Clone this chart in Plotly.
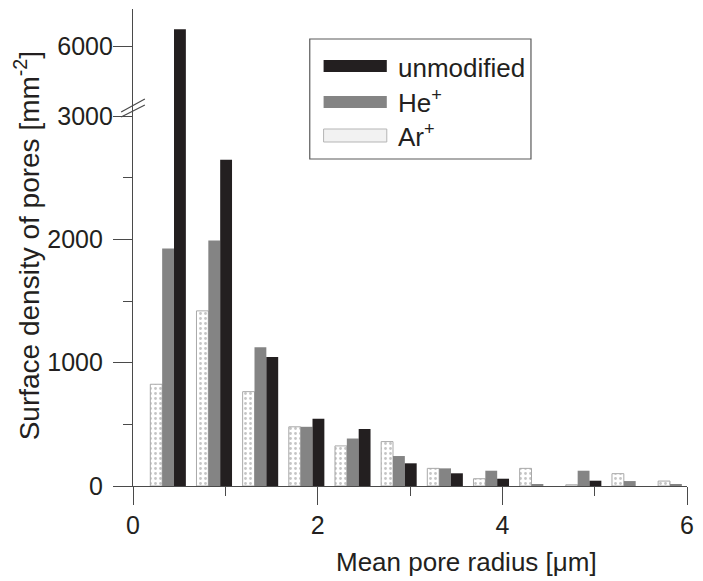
import plotly.graph_objects as go

# ---- data ----
radius = [0.38, 0.88, 1.38, 1.88, 2.38, 2.88, 3.38, 3.88, 4.38, 4.88, 5.38, 5.88]
ar_plus = [825, 1420, 765, 480, 325, 360, 143, 59, 143, 10, 100, 40]
he_plus = [1925, 1990, 1125, 480, 385, 243, 143, 124, 15, 124, 40, 15]
unmodified = [6720, 2645, 1045, 545, 462, 184, 103, 59, 0, 43, 0, 0]

x_ticks = [0, 2, 4, 6]
x_minor = [1, 3, 5]
y_low_ticks = [0, 1000, 2000]
y_low_minor = [500, 1500, 2500]
y_high_ticks = [3000, 6000]
series_names = ["unmodified", "He<sup>+</sup>", "Ar<sup>+</sup>"]

TXT = "#231f20"
AX = "#4a4a4a"
FONT = "Liberation Sans, Arial, Helvetica, sans-serif"

W, H = 703, 581
ML, MR, MT, MB = 133, 9, 9, 95
PW, PH = W - ML - MR, H - MT - MB
ybreak_px = 116
f = (H - MB - ybreak_px) / PH  # split between lower and upper y domains


def px(x):
    return (x - ML) / PW


def py(y):
    return (H - MB - y) / PH


fig = go.Figure()

ar_style = dict(color="white", line=dict(color="#a9a9a9", width=1),
                pattern=dict(shape=".", fgcolor="#8c8c8c", bgcolor="white", size=5, solidity=0.25))
he_style = dict(color="#848484", line=dict(width=0))
un_style = dict(color=TXT, line=dict(width=0))

for xa, ya in (("x", "y"), ("x2", "y2")):
    fig.add_trace(go.Bar(x=radius, y=ar_plus, name="Ar+", marker=ar_style, xaxis=xa, yaxis=ya, showlegend=False))
    fig.add_trace(go.Bar(x=radius, y=he_plus, name="He+", marker=he_style, xaxis=xa, yaxis=ya, showlegend=False))
    fig.add_trace(go.Bar(x=radius, y=unmodified, name="unmodified", marker=un_style, xaxis=xa, yaxis=ya, showlegend=False))

tickfont = dict(family=FONT, size=25, color=TXT)

fig.update_layout(
    width=W, height=H,
    margin=dict(l=ML, r=MR, t=MT, b=MB),
    paper_bgcolor="white", plot_bgcolor="white",
    barmode="group", bargap=0.23, bargroupgap=0,
    font=dict(family=FONT, color=TXT),
    xaxis=dict(domain=[0, 1], anchor="y", range=[0, 6], tickvals=x_ticks,
               ticks="outside", ticklen=18, tickcolor=AX, tickwidth=1.2,
               minor=dict(tickvals=x_minor, ticks="outside", ticklen=9, tickcolor=AX, tickwidth=1.2),
               showline=True, linecolor=AX, linewidth=1.2, showgrid=False, zeroline=False,
               tickfont=tickfont, ticklabelstandoff=-1),
    xaxis2=dict(domain=[0, 1], anchor="y2", matches="x", visible=False, range=[0, 6]),
    yaxis=dict(domain=[0, f], anchor="x", range=[0, 3000], tickvals=y_low_ticks,
               ticks="outside", ticklen=19, tickcolor=AX, tickwidth=1.2,
               minor=dict(tickvals=y_low_minor, ticks="outside", ticklen=9, tickcolor=AX, tickwidth=1.2),
               showline=True, linecolor=AX, linewidth=1.2, showgrid=False, zeroline=False,
               tickfont=tickfont, ticklabelstandoff=5),
    yaxis2=dict(domain=[f, 1], anchor="x2", range=[3000, 7590], tickvals=y_high_ticks,
                ticks="outside", ticklen=19, tickcolor=AX, tickwidth=1.2,
                showline=True, linecolor=AX, linewidth=1.2, showgrid=False, zeroline=False,
                tickfont=tickfont, ticklabelstandoff=-5),
)

shapes = []
# axis break marks
for (x0, y0, x1, y1) in ((121, 112, 145, 99), (121, 117, 145, 105)):
    shapes.append(dict(type="line", xref="paper", yref="paper", x0=px(x0), y0=py(y0), x1=px(x1), y1=py(y1),
                       line=dict(color=AX, width=1.2)))
# legend box
shapes.append(dict(type="rect", xref="paper", yref="paper", x0=px(312), x1=px(536), y0=py(159), y1=py(39),
                   line=dict(color="#5a5a5a", width=1.2), fillcolor="rgba(0,0,0,0)"))
# legend swatches
sw = [((60, 72), dict(fillcolor=TXT, line=dict(width=0))),
      ((96, 108), dict(fillcolor="#848484", line=dict(width=0))),
      ((129, 142), dict(fillcolor="#f2f2f2", line=dict(color="#b5b5b5", width=1)))]
for (yt, yb), st in sw:
    shapes.append(dict(type="rect", xref="paper", yref="paper", x0=px(326), x1=px(390), y0=py(yb), y1=py(yt), **st))
fig.update_layout(shapes=shapes)

annotations = []
for name, yc in zip(series_names, (68, 102, 135)):
    annotations.append(dict(text=name, xref="paper", yref="paper", x=px(399), y=py(yc),
                            xanchor="left", yanchor="middle", showarrow=False,
                            font=dict(family=FONT, size=26, color=TXT)))
annotations.append(dict(text="Surface density of pores [mm<sup>-2</sup>]", xref="paper", yref="paper",
                        x=px(26), y=py(246), xanchor="center", yanchor="middle", textangle=-90,
                        showarrow=False, font=dict(family=FONT, size=28, color=TXT)))
annotations.append(dict(text="Mean pore radius [μm]", xref="paper", yref="paper",
                        x=px(471), y=py(562), xanchor="center", yanchor="middle",
                        showarrow=False, font=dict(family=FONT, size=26, color=TXT)))
fig.update_layout(annotations=annotations)

fig.write_html("out.html", config={"displayModeBar": False},
               post_script="document.body.style.margin='0';document.body.style.overflow='hidden';")
